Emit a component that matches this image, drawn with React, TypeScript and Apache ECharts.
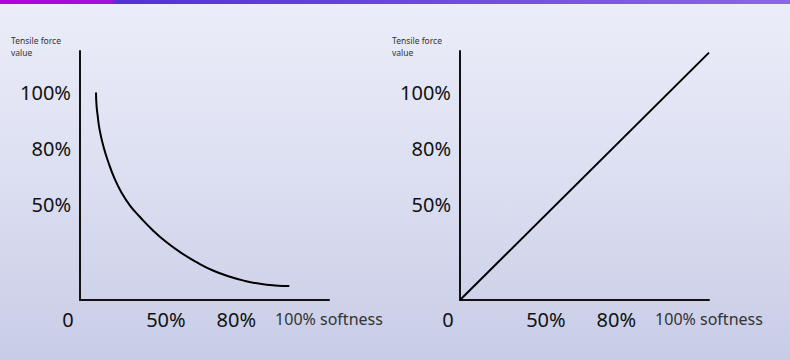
import React, { useEffect, useRef } from "react";
import * as echarts from "echarts";

// ---- data ----
const yTickLabels = ["100%", "80%", "50%"];
const yTickAt = [100, 73, 46];
const xTickLabels = ["0", "50%", "80%", "100% softness"];
const xTickAt = [0, 34.5, 62.8, 100];
const yAxisName = "Tensile force\nvalue";

// left panel: tensile force falls as softness rises
const curveX = [6.43, 6.63, 7.11, 7.83, 9.36, 11.37, 13.78, 16.75, 20.08, 24.1, 28.92, 34.14, 40.16, 46.99, 53.41, 60.24, 66.27, 72.29, 78.31, 84.06];
const curveY = [100, 94.0, 88.7, 82.4, 74.2, 66.5, 58.8, 51.6, 45.5, 40.0, 34.0, 28.4, 23.1, 18.1, 14.2, 11.2, 9.2, 7.8, 7.0, 6.7];
// right panel: tensile force rises with softness
const lineX = [0, 100];
const lineY = [0, 119.2];

const FONT = "Noto Sans";

function makeXAxis(gridIndex: number) {
  return {
    type: "value",
    gridIndex,
    min: 0,
    max: 100,
    splitLine: { show: false },
    axisTick: { show: false },
    axisLine: { show: true, lineStyle: { color: "#111", width: 2 } },
    axisLabel: {
      customValues: xTickAt,
      margin: 7,
      fontFamily: FONT,
      fontSize: 20,
      color: "#111",
      lineHeight: 24,
      formatter: (v: number) => {
        const i = xTickAt.indexOf(v);
        if (i < 0) return "";
        const t = xTickLabels[i];
        if (i === 0) return "{zero|" + t + "}";
        if (i === xTickLabels.length - 1) return "{soft|" + t + "}";
        return t;
      },
      rich: {
        zero: { fontFamily: FONT, fontSize: 20, color: "#111", lineHeight: 24, padding: [0, 24, 0, 0] },
        soft: { fontFamily: FONT, fontSize: 16, color: "#333", lineHeight: 24 },
      },
    },
  };
}

function makeYAxis(gridIndex: number) {
  return {
    type: "value",
    gridIndex,
    min: 0,
    max: 120,
    splitLine: { show: false },
    axisTick: { show: false },
    axisLine: { show: true, lineStyle: { color: "#111", width: 2 } },
    axisLabel: {
      customValues: yTickAt,
      margin: 9,
      fontFamily: FONT,
      fontSize: 20,
      color: "#111",
      formatter: (v: number) => {
        const i = yTickAt.indexOf(v);
        return i < 0 ? "" : yTickLabels[i];
      },
    },
  };
}

export default function App() {
  const ref = useRef<HTMLDivElement>(null);
  useEffect(() => {
    document.body.style.margin = "0";
    if (!ref.current) return;
    const chart = echarts.init(ref.current, null, { renderer: "svg" });
    chart.setOption({
      animation: false,
      backgroundColor: new echarts.graphic.LinearGradient(0, 0, 0, 1, [
        { offset: 0, color: "#ebedf9" },
        { offset: 0.5, color: "#dcdff1" },
        { offset: 1, color: "#c8cce6" },
      ]),
      grid: [
        { left: 80, top: 51, width: 249, height: 249 },
        { left: 460, top: 51, width: 249, height: 249 },
      ],
      xAxis: [makeXAxis(0), makeXAxis(1)],
      yAxis: [makeYAxis(0), makeYAxis(1)],
      series: [
        {
          type: "line",
          xAxisIndex: 0,
          yAxisIndex: 0,
          data: curveX.map((x, i) => [x, curveY[i]]),
          smooth: 0.5,
          showSymbol: false,
          lineStyle: { color: "#000", width: 2 },
        },
        {
          type: "line",
          xAxisIndex: 1,
          yAxisIndex: 1,
          data: lineX.map((x, i) => [x, lineY[i]]),
          showSymbol: false,
          lineStyle: { color: "#000", width: 2 },
        },
      ],
      graphic: [
        {
          type: "rect",
          left: 0,
          top: 0,
          shape: { width: 790, height: 4 },
          style: {
            fill: new echarts.graphic.LinearGradient(0, 0, 1, 0, [
              { offset: 0, color: "#b400de" },
              { offset: 0.14, color: "#a010dc" },
              { offset: 0.148, color: "#5230d8" },
              { offset: 1, color: "#8c66e6" },
            ]),
          },
        },
        {
          type: "text",
          left: 11,
          top: 34,
          style: { text: yAxisName, fontFamily: FONT, fontSize: 8.5, lineHeight: 12, fill: "#333" },
        },
        {
          type: "text",
          left: 392,
          top: 34,
          style: { text: yAxisName, fontFamily: FONT, fontSize: 8.5, lineHeight: 12, fill: "#333" },
        },
      ],
    });
    return () => chart.dispose();
  }, []);
  return <div ref={ref} style={{ width: 790, height: 360 }} />;
}
